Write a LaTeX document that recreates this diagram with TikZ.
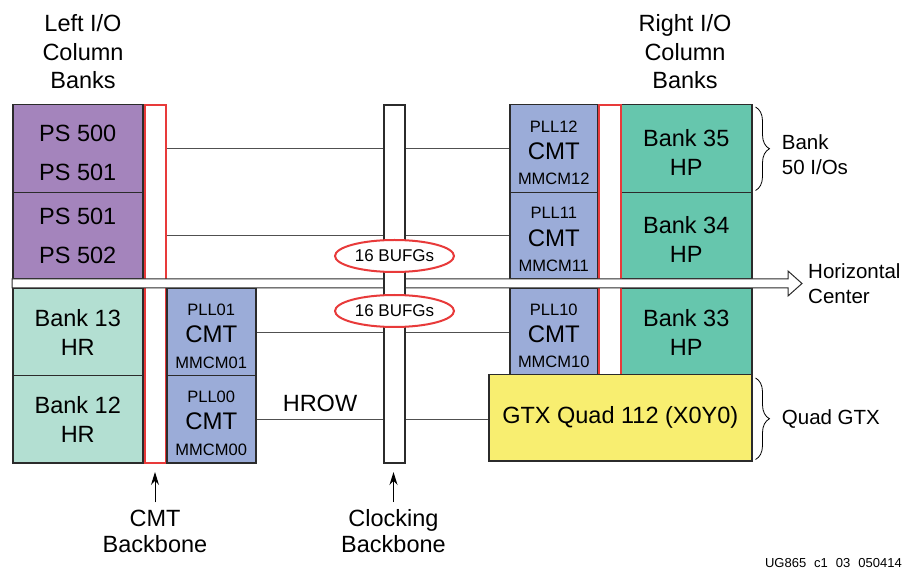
\documentclass[tikz,border=0pt]{standalone}
\usepackage{fontspec}
\setmainfont{Liberation Sans}
\usetikzlibrary{positioning, shapes.geometric, arrows.meta, decorations.pathreplacing}

\definecolor{psviolet}{RGB}{164,132,188}
\definecolor{hrgreen}{RGB}{179,223,210}
\definecolor{hpgreen}{RGB}{102,198,173}
\definecolor{cmtblue}{RGB}{155,172,216}
\definecolor{gtxyellow}{RGB}{248,238,112}
\definecolor{bbred}{RGB}{232,58,58}
\definecolor{framegray}{RGB}{43,43,43}
\definecolor{linegray}{RGB}{80,80,80}

% pushes the text of the upper boxes a little down
\newcommand{\lowstrut}{\rule{0pt}{25pt}}

\tikzset{
    box/.style={draw=framegray, line width=1.5pt, anchor=north west, inner sep=0pt, align=center, font=\fontsize{23.5}{29}\selectfont},
    psbox/.style={box, fill=psviolet, font=\fontsize{23.5}{39}\selectfont},
    hrbox/.style={box, fill=hrgreen},
    hpbox/.style={box, fill=hpgreen},
    gtxbox/.style={box, fill=gtxyellow},
    cmtbox/.style={box, fill=cmtblue},
    cmtsmall/.style={inner sep=0pt, font=\fontsize{16.5}{18}\selectfont},
    cmtbig/.style={inner sep=0pt, font=\fontsize{24}{28}\selectfont},
    cmtbone/.style={draw=bbred, line width=2pt, fill=white, anchor=north west, inner sep=0pt},
    clkbone/.style={draw=framegray, line width=2pt, fill=white, anchor=north west, inner sep=0pt},
    hline/.style={draw=linegray, line width=1pt},
    bufg/.style={ellipse, draw=bbred, line width=2pt, fill=white, minimum width=119pt, minimum height=32pt, inner sep=0pt, font=\fontsize{17}{20}\selectfont},
    lbl/.style={align=center, inner sep=0pt, font=\fontsize{23.5}{28.5}\selectfont},
    sidelbl/.style={align=left, inner sep=0pt, anchor=west, font=\fontsize{20.5}{25.5}\selectfont},
    brace/.style={decorate, decoration={brace, amplitude=14pt}, line width=0.8pt},
    pointer/.style={-{Stealth[length=13pt, width=8pt]}, line width=1pt},
}

\begin{document}
\begin{tikzpicture}[x=1pt, y=-1pt]
    \useasboundingbox (0,0) rectangle (903,569);

    \node[cmtbone, minimum width=21pt, minimum height=358pt] (cmtbb) at (144,104) {};

    % left column
    \node[psbox, minimum width=130pt, minimum height=88pt] (ps1) at (12,104) {\lowstrut PS 500\\PS 501};
    \node[psbox, minimum width=130pt, minimum height=86pt] (ps2) at (12,192) {PS 501\\PS 502};
    \node[hrbox, minimum width=130pt, minimum height=87pt] (hr13) at (12,288) {Bank 13\\HR};
    \node[hrbox, minimum width=130pt, minimum height=87pt] (hr12) at (12,375) {Bank 12\\HR};

    \node[cmtbox, minimum width=89pt, minimum height=87pt] (cmt01) at (166,288) {};
    \node[cmtbox, minimum width=89pt, minimum height=87pt] (cmt00) at (166,375) {};

    % right column
    \node[cmtbox, minimum width=88pt, minimum height=88pt] (cmt12) at (509,104) {};
    \node[cmtbox, minimum width=88pt, minimum height=86pt] (cmt11) at (509,192) {};
    \node[cmtbox, minimum width=88pt, minimum height=87pt] (cmt10) at (509,288) {};

    \node[hpbox, minimum width=131pt, minimum height=88pt] (hp35) at (620,104) {\lowstrut Bank 35\\HP};
    \node[hpbox, minimum width=131pt, minimum height=86pt] (hp34) at (620,192) {\lowstrut Bank 34\\HP};
    \node[hpbox, minimum width=131pt, minimum height=87pt] (hp33) at (620,288) {Bank 33\\HP};

    \node[cmtbone, minimum width=22pt, minimum height=270pt] (cmtbbR) at (598,104) {};
    \node[gtxbox, minimum width=263pt, minimum height=86pt] (gtx) at (488,374) {GTX Quad 112 (X0Y0)};

    % CMT texts
    \node[cmtsmall] (pll01) at ([yshift=22.5pt]cmt01.center) {PLL01};
    \node[cmtbig] (cmtt01) at ([yshift=-1.5pt]cmt01.center) {CMT};
    \node[cmtsmall] (mmcm01) at ([yshift=-31pt]cmt01.center) {MMCM01};
    \node[cmtsmall] (pll00) at ([yshift=22.5pt]cmt00.center) {PLL00};
    \node[cmtbig] (cmtt00) at ([yshift=-1.5pt]cmt00.center) {CMT};
    \node[cmtsmall] (mmcm00) at ([yshift=-31pt]cmt00.center) {MMCM00};
    \node[cmtsmall] (pll12) at ([yshift=22.5pt]cmt12.center) {PLL12};
    \node[cmtbig] (cmtt12) at ([yshift=-2pt]cmt12.center) {CMT};
    \node[cmtsmall] (mmcm12) at ([yshift=-30pt]cmt12.center) {MMCM12};
    \node[cmtsmall] (pll11) at ([yshift=22.5pt]cmt11.center) {PLL11};
    \node[cmtbig] (cmtt11) at ([yshift=-2pt]cmt11.center) {CMT};
    \node[cmtsmall] (mmcm11) at ([yshift=-30pt]cmt11.center) {MMCM11};
    \node[cmtsmall] (pll10) at ([yshift=22.5pt]cmt10.center) {PLL10};
    \node[cmtbig] (cmtt10) at ([yshift=-1.5pt]cmt10.center) {CMT};
    \node[cmtsmall] (mmcm10) at ([yshift=-30pt]cmt10.center) {MMCM10};

    % horizontal clock rows
    \draw[hline] (cmtbb.east |- ps1.east) -- (cmt12.west);
    \draw[hline] (cmtbb.east |- ps2.east) -- (cmt11.west);
    \draw[hline] (cmt01.east) -- (cmt10.west);
    \draw[hline] (cmt00.east) -- (gtx.west |- cmt00.east);
    \node[lbl] (hrow) at (320,403) {HROW};

    % horizontal center
    \coordinate (hctip) at (802,283.5);
    \draw[framegray, line width=1pt, fill=white] (12,279) -- (788,279) -- (788,271) -- (hctip) -- (788,296) -- (788,288) -- (12,288) -- cycle;
    \node[sidelbl, right=6pt of hctip] (hclbl) {Horizontal\\Center};

    % clocking backbone
    \node[clkbone, minimum width=21pt, minimum height=358pt] (clkbb) at (383,104) {};
    \node[bufg] (bufg1) at (394.5,256) {16 BUFGs};
    \node[bufg] (bufg2) at (394.5,311) {16 BUFGs};

    % column titles
    \node[lbl] (lefttitle) at (83,52) {Left I/O\\Column\\Banks};
    \node[lbl] (righttitle) at (685,52) {Right I/O\\Column\\Banks};

    % braces
    \draw[brace] ([xshift=3pt, yshift=-3pt]hp35.north east) -- ([xshift=3pt, yshift=3pt]hp35.south east)
        node[midway, sidelbl, right=26pt, yshift=-6pt] (banklbl) {Bank\\50 I/Os};
    \draw[brace] ([xshift=3pt, yshift=-4pt]gtx.north east) -- ([xshift=3pt, yshift=2pt]gtx.south east)
        node[midway, sidelbl, right=26pt] (quadlbl) {Quad GTX};

    % bottom pointers
    \node[lbl, font=\fontsize{23.5}{26}\selectfont] (cmtlbl) at (155,531) {CMT\\Backbone};
    \node[lbl, font=\fontsize{23.5}{26}\selectfont] (clklbl) at (393.5,531) {Clocking\\Backbone};
    \draw[pointer, shorten <=7pt, shorten >=8pt] (cmtlbl.north) -- (cmtlbl.north |- cmtbb.south);
    \draw[pointer, shorten <=7pt, shorten >=8pt] (clklbl.north) -- (clklbl.north |- clkbb.south);

    \node[inner sep=0pt, anchor=east, font=\fontsize{13}{15}\selectfont] (ugid) at (902,563) {UG865\hspace{8pt}c1\hspace{8pt}03\hspace{8pt}050414};
\end{tikzpicture}
\end{document}
